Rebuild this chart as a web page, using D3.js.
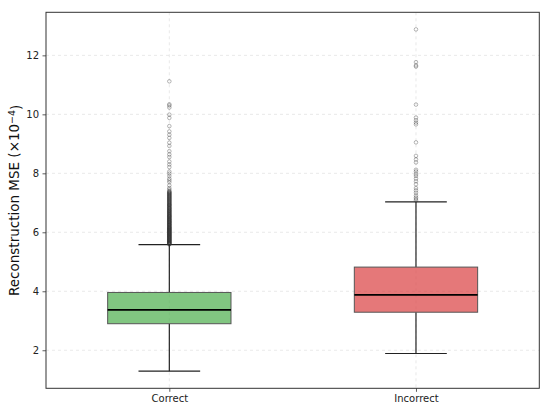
<!DOCTYPE html>
<html><head><meta charset="utf-8">
<script src="https://cdn.jsdelivr.net/npm/d3@7"></script>
<style>
body{margin:0;background:#fff;}
text{font-family:"DejaVu Sans",sans-serif;}
</style></head>
<body><svg id="c" width="550" height="411"></svg>
<script>
const categories = ["Correct", "Incorrect"];
const q1 = [2.90, 3.29];
const medians = [3.37, 3.88];
const q3 = [3.96, 4.82];
const whiskerLow = [1.29, 1.89];
const whiskerHigh = [5.58, 7.03];
const outliersCorrect = [5.59,5.60,5.61,5.62,5.63,5.64,5.65,5.66,5.67,5.68,5.69,5.70,5.71,5.72,5.73,5.74,5.75,5.76,5.77,5.78,5.79,5.80,5.81,5.82,5.83,5.84,5.85,5.86,5.87,5.88,5.89,5.90,5.91,5.92,5.93,5.94,5.95,5.96,5.97,5.98,5.99,6.00,6.01,6.02,6.03,6.04,6.05,6.06,6.07,6.08,6.09,6.10,6.11,6.12,6.13,6.14,6.15,6.16,6.17,6.18,6.19,6.20,6.22,6.23,6.24,6.25,6.26,6.27,6.28,6.29,6.31,6.32,6.33,6.34,6.35,6.36,6.37,6.38,6.40,6.41,6.42,6.43,6.44,6.45,6.47,6.48,6.49,6.50,6.52,6.53,6.54,6.55,6.56,6.57,6.59,6.60,6.61,6.62,6.64,6.65,6.66,6.68,6.69,6.70,6.72,6.73,6.74,6.75,6.77,6.78,6.80,6.81,6.82,6.83,6.85,6.86,6.88,6.89,6.91,6.92,6.93,6.94,6.96,6.97,6.99,7.00,7.02,7.03,7.05,7.06,7.08,7.09,7.11,7.12,7.14,7.15,7.17,7.18,7.20,7.21,7.23,7.24,7.26,7.27,7.29,7.30,7.32,7.33,7.35,7.36,7.38,7.40,7.45,7.50,7.59,7.70,7.76,7.82,7.91,7.99,8.06,8.21,8.30,8.40,8.55,8.64,8.75,8.93,9.04,9.20,9.31,9.42,9.60,9.88,9.99,10.23,10.30,10.34,11.12];
const outliersIncorrect = [7.08,7.13,7.18,7.25,7.34,7.42,7.50,7.63,7.73,7.82,7.91,7.97,8.06,8.12,8.37,8.47,8.59,9.05,9.66,9.72,9.80,9.89,10.33,11.62,11.66,11.77,12.88];
const yTicks = [2,4,6,8,10,12];
const fills = ["#4bae4b", "#da3e40"];

const svg = d3.select("#c");
const L = 46, R = 539.3, T = 12.3, B = 388.3;
const x = d3.scaleLinear().domain([0.5, 2.5]).range([L, R]);
const y = d3.scaleLinear().domain([0.71, 13.46]).range([B, T]);

// grid
const g = svg.append("g");
g.selectAll(".gy").data(yTicks).enter().append("line")
  .attr("x1", L).attr("x2", R).attr("y1", d=>y(d)).attr("y2", d=>y(d))
  .attr("stroke", "#b0b0b0").attr("stroke-opacity", 0.35).attr("stroke-width", 0.8).attr("stroke-dasharray", "3,3");
g.selectAll(".gx").data([1,2]).enter().append("line")
  .attr("y1", T).attr("y2", B).attr("x1", d=>x(d)).attr("x2", d=>x(d))
  .attr("stroke", "#b0b0b0").attr("stroke-opacity", 0.35).attr("stroke-width", 0.8).attr("stroke-dasharray", "3,3");

const boxW = 0.5, capW = 0.25;
categories.forEach((c, i) => {
  const p = i + 1;
  const bg = svg.append("g");
  bg.append("line").attr("x1", x(p)).attr("x2", x(p)).attr("y1", y(q3[i])).attr("y2", y(whiskerHigh[i]))
    .attr("stroke", "#222").attr("stroke-width", 1.2);
  bg.append("line").attr("x1", x(p)).attr("x2", x(p)).attr("y1", y(q1[i])).attr("y2", y(whiskerLow[i]))
    .attr("stroke", "#222").attr("stroke-width", 1.2);
  [whiskerHigh[i], whiskerLow[i]].forEach(v => {
    bg.append("line").attr("x1", x(p - capW/2)).attr("x2", x(p + capW/2)).attr("y1", y(v)).attr("y2", y(v))
      .attr("stroke", "#222").attr("stroke-width", 1.2);
  });
  bg.append("rect").attr("x", x(p - boxW/2)).attr("width", x(p + boxW/2) - x(p - boxW/2))
    .attr("y", y(q3[i])).attr("height", y(q1[i]) - y(q3[i]))
    .attr("fill", fills[i]).attr("fill-opacity", 0.7)
    .attr("stroke", "#555").attr("stroke-width", 1);
  bg.append("line").attr("x1", x(p - boxW/2)).attr("x2", x(p + boxW/2)).attr("y1", y(medians[i])).attr("y2", y(medians[i]))
    .attr("stroke", "#000").attr("stroke-width", 1.8);
  const outs = i === 0 ? outliersCorrect : outliersIncorrect;
  bg.selectAll("circle").data(outs).enter().append("circle")
    .attr("cx", x(p)).attr("cy", d=>y(d)).attr("r", 1.8)
    .attr("fill", "none").attr("stroke", "#333").attr("stroke-opacity", 0.5).attr("stroke-width", 0.7);
});

const ax = svg.append("g").attr("transform", `translate(0,${B})`)
  .call(d3.axisBottom(x).tickValues([1,2]).tickFormat(d=>categories[d-1]).tickSize(3.5).tickPadding(3.5).tickSizeOuter(0));
const ay = svg.append("g").attr("transform", `translate(${L},0)`)
  .call(d3.axisLeft(y).tickValues(yTicks).tickSize(3.5).tickPadding(3.5).tickSizeOuter(0));
[ax, ay].forEach(a => {
  a.select(".domain").remove();
  a.selectAll(".tick line").attr("stroke", "#333").attr("stroke-width", 0.8);
  a.selectAll(".tick text").attr("font-size", "10px").attr("fill", "#222").attr("font-family", "DejaVu Sans");
});
svg.append("rect").attr("x", L).attr("y", T).attr("width", R-L).attr("height", B-T)
  .attr("fill", "none").attr("stroke", "#333").attr("stroke-width", 1);

const yl = svg.append("text").attr("transform", `translate(19,${(T+B)/2}) rotate(-90)`)
  .attr("text-anchor", "middle").attr("font-size", "13.5px").attr("fill", "#111");
yl.append("tspan").text("Reconstruction MSE (×10");
yl.append("tspan").attr("dy", "-0.45em").attr("font-size", "9.5px").text("−4");
yl.append("tspan").attr("dy", "0.45em").text(")");
</script></body></html>
